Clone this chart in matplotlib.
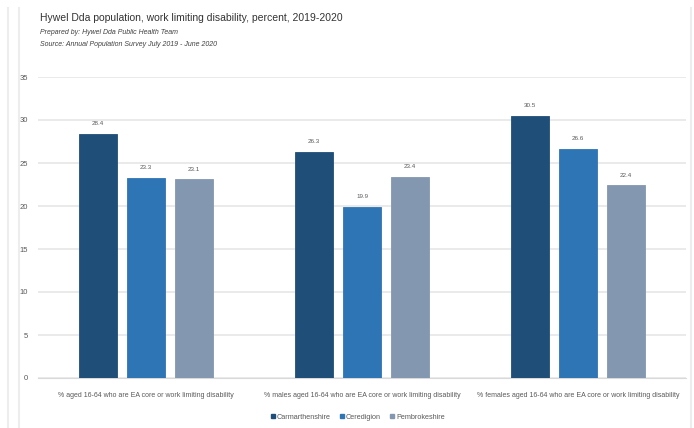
import numpy as np
import matplotlib
matplotlib.use("Agg")
import matplotlib.pyplot as plt
from matplotlib.lines import Line2D

plt.rcParams['font.family'] = ['Liberation Sans', 'DejaVu Sans']

categories = ["% aged 16-64 who are EA core or work limiting disability",
              "% males aged 16-64 who are EA core or work limiting disability",
              "% females aged 16-64 who are EA core or work limiting disability"]
areas = ["Carmarthenshire", "Ceredigion", "Pembrokeshire"]
carmarthenshire = [28.4, 26.3, 30.5]
ceredigion = [23.3, 19.9, 26.6]
pembrokeshire = [23.1, 23.4, 22.4]
colors = ["#1f4e79", "#2e75b6", "#8497b0"]

fig = plt.figure(figsize=(6.94, 4.28), dpi=100)
ax = fig.add_axes([38/694, 1-378/428, (686-38)/694, (378-77)/428])

x = np.arange(len(categories))
w = 0.172
step = 0.222
series = [carmarthenshire, ceredigion, pembrokeshire]
for i, vals in enumerate(series):
    pos = x + (i - 1) * step
    bars = ax.bar(pos, vals, width=w, color=colors[i], edgecolor=colors[i],
                  linewidth=0.6, zorder=3)
    for b, v in zip(bars, vals):
        ax.text(b.get_x() + b.get_width()/2, v + 0.9, "%.1f" % v,
                ha="center", va="bottom", fontsize=4.5, color="#595959")

ax.set_xlim(-0.5, 2.5)
ax.set_ylim(0, 35)
ax.set_yticks(np.arange(0, 36, 5))
ax.yaxis.grid(True, color="#e6e6e6", linewidth=1.2, zorder=0)
ax.set_axisbelow(True)
for s in ["top", "right", "left"]:
    ax.spines[s].set_visible(False)
ax.spines["bottom"].set_color("#d9d9d9")
ax.tick_params(axis="y", length=0, labelsize=5.5, labelcolor="#595959", pad=7)
ax.tick_params(axis="x", length=0, labelsize=5, labelcolor="#595959", pad=10)
ax.set_xticks(x)
ax.set_xticklabels(categories)

handles = [Line2D([0], [0], marker="s", linestyle="none", markersize=3.2,
                  markerfacecolor=c, markeredgecolor=c) for c in colors]
fig.legend(handles, areas, loc="center", bbox_to_anchor=(357/694, 1-417/428),
           ncol=3, frameon=False, fontsize=5.2, handletextpad=0.1,
           handlelength=1.0, columnspacing=1.0, labelcolor="#595959")

fig.text(40/694, 1-18/428, "Hywel Dda population, work limiting disability, percent, 2019-2020",
         fontsize=7.5, color="#333333", va="center")
fig.text(40/694, 1-32/428, "Prepared by: Hywel Dda Public Health Team",
         fontsize=5, style="italic", color="#404040", va="center")
fig.text(40/694, 1-45/428, "Source: Annual Population Survey July 2019 - June 2020",
         fontsize=5, style="italic", color="#404040", va="center")

# faint frame lines
for xx in [8, 19, 691]:
    fig.add_artist(Line2D([xx/694, xx/694], [0, 1-8/428], color="#ededed",
                          linewidth=1.5))

fig.savefig("out.png", dpi=100, facecolor="white")
